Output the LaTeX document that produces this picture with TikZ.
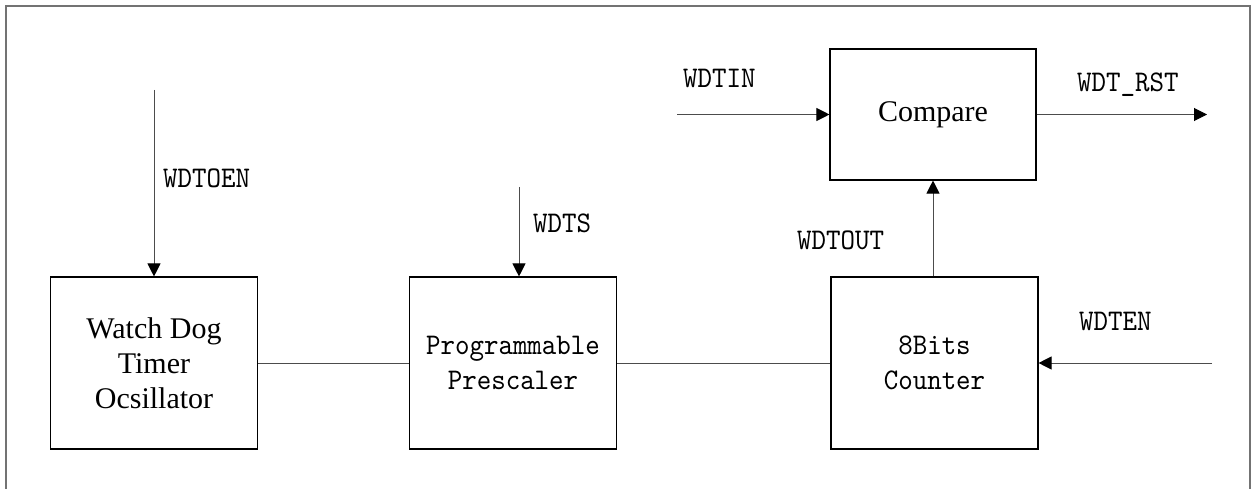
\documentclass[tikz,border=0pt]{standalone}
\usepackage{fontspec}
\setmainfont{Liberation Serif}
\newfontfamily\narrowmono[FakeStretch=0.92]{lmmono10-regular.otf}
\usetikzlibrary{arrows.meta}
\tikzset{
  block/.style={draw=black, line width=1.1pt, minimum width=207pt, inner sep=0pt, align=center},
  serif/.style={font=\fontsize{30}{35}\selectfont},
  mono/.style={font=\narrowmono\fontsize{30}{35}\selectfont},
  sig/.style={draw=black!70, line width=1pt},
  sigarrow/.style={sig, -{Triangle[length=13pt,width=13pt,color=black]}},
  siglabel/.style={mono, inner sep=0pt, anchor=base west},
}
\begin{document}
\begin{tikzpicture}[x=1pt,y=-1pt]
\useasboundingbox (0,0) rectangle (1253,489);
% outer frame
\draw[black!55, line width=1.2pt] (6,489) -- (6,6) -- (1250,6) -- (1250,489);

% blocks
\node[block, serif, minimum height=172pt] (osc) at (154,363) {Watch Dog\\Timer\\Ocsillator};
\node[block, mono, minimum height=172pt] (pre) at (513,363) {Programmable\\Prescaler};
\node[block, mono, minimum height=172pt] (cnt) at (934.5,363) {8Bits\\Counter};
\node[block, serif, minimum width=206pt, minimum height=131pt] (cmp) at (933,114.5) {Compare};

% free ends of the signals
\coordinate (oenin) at (154,90);
\coordinate (tsin) at (519,187);
\coordinate (inin) at (677,114.5);
\coordinate (rstout) at (1207,114.5);
\coordinate (enin) at (1212,363);

% datapath
\draw[sig] (osc.east) -- (pre.west);
\draw[sig] (pre.east) -- (cnt.west);

% control signals
\draw[sigarrow] (oenin) -- (osc.north);
\draw[sigarrow] (tsin) -- (tsin |- pre.north);
\draw[sigarrow] (inin) -- (cmp.west);
\draw[sigarrow] (cmp.east) -- (rstout);
\draw[sigarrow] (cnt.north -| cmp.south) -- (cmp.south);
\draw[sigarrow] (enin) -- (cnt.east);

% signal names
\node[siglabel] (l-oen) at (163,188) {WDTOEN};
\node[siglabel] (l-ts) at (533,233) {WDTS};
\node[siglabel] (l-in) at (683,88) {WDTIN};
\node[siglabel] (l-rst) at (1077,92) {WDT\_RST};
\node[siglabel] (l-out) at (797,250) {WDTOUT};
\node[siglabel] (l-en) at (1079,330) {WDTEN};
\end{tikzpicture}
\end{document}
